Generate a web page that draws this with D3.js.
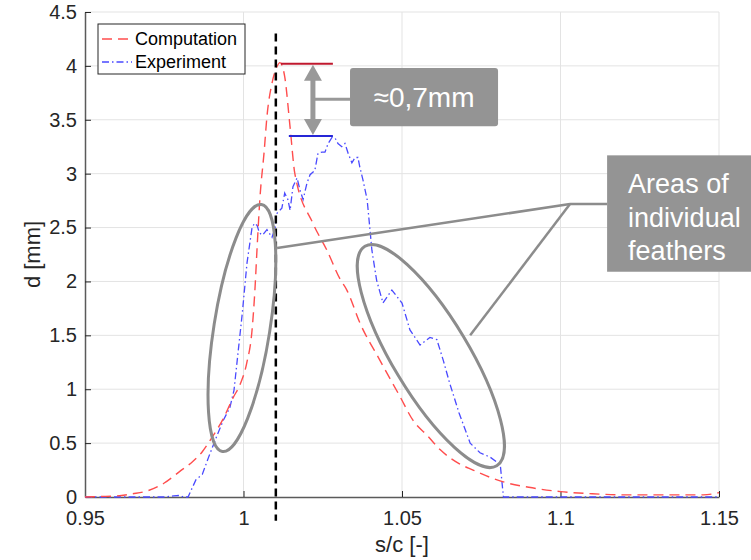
<!DOCTYPE html>
<html>
<head>
<meta charset="utf-8">
<script src="https://cdn.jsdelivr.net/npm/d3@7"></script>
<style>
  body { margin: 0; background: #fff; }
  svg { display: block; font-family: "Liberation Sans", Arial, Helvetica, sans-serif; }
</style>
</head>
<body>
<div id="area"></div>
<script>
// values
var xTicks = [0.95, 1, 1.05, 1.1, 1.15];
var yTicks = [0, 0.5, 1, 1.5, 2, 2.5, 3, 3.5, 4, 4.5];
var xTickLabels = ['0.95', '1', '1.05', '1.1', '1.15'];
var yTickLabels = ['0', '0.5', '1', '1.5', '2', '2.5', '3', '3.5', '4', '4.5'];

var compX = [0.950, 0.955, 0.960, 0.965, 0.970, 0.975, 0.980, 0.984, 0.987, 0.990,
             0.9935, 0.9967, 0.999, 1.001, 1.0027, 1.0036, 1.0043, 1.0052, 1.0065, 1.0074,
             1.009, 1.0105, 1.0115, 1.013, 1.0147, 1.0162, 1.0219, 1.0263, 1.0305, 1.0326,
             1.0368, 1.043, 1.0494, 1.0535, 1.058, 1.062, 1.068, 1.0724, 1.078, 1.082,
             1.09, 1.10, 1.11, 1.12, 1.135, 1.145, 1.15];
var compY = [0, 0.005, 0.01, 0.03, 0.06, 0.13, 0.24, 0.33, 0.42, 0.55,
             0.72, 0.92, 1.05, 1.24, 1.55, 1.92, 2.32, 2.78, 3.2, 3.53,
             3.84, 3.99, 4.03, 3.9, 3.43, 3.0, 2.54, 2.29, 2.02, 1.92,
             1.61, 1.27, 0.93, 0.71, 0.57, 0.44, 0.31, 0.25, 0.18, 0.14,
             0.09, 0.05, 0.03, 0.02, 0.02, 0.02, 0.04];

var expX = [0.950, 0.975, 0.978, 0.980, 0.981, 0.9825, 0.985, 0.987, 0.989, 0.9915,
            0.9936, 0.9957, 0.997, 0.9985, 0.9996, 1.0011, 1.0027, 1.0035, 1.0043, 1.005,
            1.006, 1.0074, 1.009, 1.010, 1.0105, 1.0121, 1.013, 1.014, 1.0147, 1.0156,
            1.0169, 1.0178, 1.0188, 1.020, 1.021, 1.0225, 1.0235, 1.0248, 1.0257, 1.0267,
            1.028, 1.0289, 1.0298, 1.031, 1.032, 1.033, 1.0342, 1.0352, 1.0361, 1.0367,
            1.0377, 1.039, 1.0399, 1.0405, 1.042, 1.044, 1.0468, 1.05, 1.0525, 1.0557,
            1.0588, 1.061, 1.063, 1.065, 1.068, 1.0715, 1.0746, 1.0778, 1.081, 1.082,
            1.15];
var expY = [0, 0, 0.01, 0.015, 0, 0, 0.16, 0.21, 0.37, 0.56,
            0.71, 0.83, 0.99, 1.4, 1.7, 2.17, 2.5, 2.54, 2.52, 2.45,
            2.43, 2.48, 2.41, 2.5, 2.63, 2.68, 2.82, 2.76, 2.66, 2.88,
            2.96, 2.85, 2.76, 2.91, 2.99, 3.03, 3.19, 3.2, 3.2, 3.28,
            3.34, 3.33, 3.28, 3.25, 3.28, 3.19, 3.1, 3.15, 3.15, 3.06,
            2.94, 2.76, 2.48, 2.29, 2.01, 1.8, 1.92, 1.8, 1.55, 1.41,
            1.48, 1.46, 1.27, 1.06, 0.78, 0.50, 0.41, 0.37, 0.30, 0,
            0];

var seriesNames = ['Computation', 'Experiment'];

// annotation anchors in data units
var peakLine = 1.0102;
var compPeak = 4.02, expPeak = 3.35;
var arrowX = 1.0219;
var gapLabel = '\u22480,7mm';
var featherLines = ['Areas of', 'individual', 'feathers'];
var featherHub = [1.103, 2.718];
var featherTargets = [[1.0106, 2.31], [1.0715, 1.50]];

var width = 751, height = 560;
var margin = {top: 12, right: 32, bottom: 63, left: 85};

var svg = d3.select('#area').append('svg')
    .attr('width', width)
    .attr('height', height);

var x = d3.scaleLinear().domain([0.95, 1.15]).range([margin.left, width - margin.right]);
var y = d3.scaleLinear().domain([0, 4.5]).range([height - margin.bottom, margin.top]);

var tickColor = '#262626';

// grid
svg.append('g')
    .selectAll('line')
    .data(xTicks.slice(1))
    .enter().append('line')
    .attr('x1', function(d) { return x(d); })
    .attr('x2', function(d) { return x(d); })
    .attr('y1', y(0)).attr('y2', y(4.5))
    .attr('stroke', '#e3e3e3').attr('stroke-width', 1);

svg.append('g')
    .selectAll('line')
    .data(yTicks.slice(1))
    .enter().append('line')
    .attr('x1', x(0.95)).attr('x2', x(1.15))
    .attr('y1', function(d) { return y(d); })
    .attr('y2', function(d) { return y(d); })
    .attr('stroke', '#e3e3e3').attr('stroke-width', 1);

// axes, ticks pointing inward like matlab
var xAxis = svg.append('g')
    .attr('transform', 'translate(0,' + y(0) + ')')
    .call(d3.axisBottom(x).tickValues(xTicks)
        .tickFormat(function(d, i) { return xTickLabels[i]; })
        .tickSize(-6).tickSizeOuter(0).tickPadding(14));

var yAxis = svg.append('g')
    .attr('transform', 'translate(' + x(0.95) + ',0)')
    .call(d3.axisLeft(y).tickValues(yTicks)
        .tickFormat(function(d, i) { return yTickLabels[i]; })
        .tickSize(-6).tickSizeOuter(0).tickPadding(8));

[xAxis, yAxis].forEach(function(a) {
    a.select('.domain').attr('stroke', '#5a5a5a').attr('stroke-width', 1.5);
    a.selectAll('.tick line').attr('stroke', '#262626');
    a.selectAll('.tick text')
        .attr('fill', tickColor)
        .style('font-size', '20px')
        .style('font-family', '"Liberation Sans", Arial, sans-serif');
});

svg.append('text')
    .attr('x', x(1.05)).attr('y', height - 8)
    .attr('text-anchor', 'middle')
    .attr('fill', tickColor)
    .style('font-size', '22px')
    .text('s/c [-]');

svg.append('text')
    .attr('transform', 'translate(40,' + y(2.25) + ') rotate(-90)')
    .attr('text-anchor', 'middle')
    .attr('fill', tickColor)
    .style('font-size', '22px')
    .text('d [mm]');

// curves
var line = d3.line()
    .x(function(d) { return x(d[0]); })
    .y(function(d) { return y(d[1]); });

var compData = d3.zip(compX, compY);
var expData = d3.zip(expX, expY);

svg.append('path')
    .datum(expData)
    .attr('d', line)
    .attr('fill', 'none')
    .attr('stroke', '#4a4aff')
    .attr('stroke-width', 1.3)
    .attr('stroke-dasharray', '7,3,1.5,3');

svg.append('path')
    .datum(compData)
    .attr('d', line.curve(d3.curveMonotoneX))
    .attr('fill', 'none')
    .attr('stroke', '#ff4d4d')
    .attr('stroke-width', 1.4)
    .attr('stroke-dasharray', '10,6');

// black dashed marker at the computed peak
svg.append('line')
    .attr('x1', x(peakLine)).attr('x2', x(peakLine))
    .attr('y1', y(4.3)).attr('y2', y(-0.22))
    .attr('stroke', '#000').attr('stroke-width', 2.5)
    .attr('stroke-dasharray', '8,5');

// peak levels
svg.append('line')
    .attr('x1', x(1.0118)).attr('x2', x(1.0282))
    .attr('y1', y(compPeak)).attr('y2', y(compPeak))
    .attr('stroke', '#c0182e').attr('stroke-width', 2);

svg.append('line')
    .attr('x1', x(1.0143)).attr('x2', x(1.0282))
    .attr('y1', y(expPeak)).attr('y2', y(expPeak))
    .attr('stroke', '#2626d6').attr('stroke-width', 2);

// double arrow between the two peaks
var gray = '#999999';
var ax = x(arrowX), ayTop = y(compPeak), ayBot = y(expPeak);
svg.append('line')
    .attr('x1', ax).attr('x2', ax)
    .attr('y1', ayTop + 14).attr('y2', ayBot - 14)
    .attr('stroke', gray).attr('stroke-width', 5);
svg.append('path')
    .attr('d', 'M' + ax + ',' + (ayTop + 1) + 'L' + (ax - 9) + ',' + (ayTop + 17) + 'L' + (ax + 9) + ',' + (ayTop + 17) + 'Z')
    .attr('fill', gray);
svg.append('path')
    .attr('d', 'M' + ax + ',' + (ayBot - 1) + 'L' + (ax - 9) + ',' + (ayBot - 17) + 'L' + (ax + 9) + ',' + (ayBot - 17) + 'Z')
    .attr('fill', gray);

var boxGray = '#949494';
svg.append('line')
    .attr('x1', ax).attr('x2', x(1.0336))
    .attr('y1', y(3.69)).attr('y2', y(3.69))
    .attr('stroke', gray).attr('stroke-width', 3);

svg.append('rect')
    .attr('x', x(1.0336)).attr('y', y(3.98))
    .attr('width', x(1.0803) - x(1.0336))
    .attr('height', y(3.44) - y(3.98))
    .attr('rx', 3)
    .attr('fill', boxGray);

svg.append('text')
    .attr('x', (x(1.0336) + x(1.0803)) / 2).attr('y', y(3.44) - 19)
    .attr('text-anchor', 'middle')
    .attr('fill', '#fff')
    .style('font-size', '28px')
    .text(gapLabel);

// feather annotation: ellipses, connector lines, label box
svg.append('ellipse')
    .attr('transform', 'translate(' + x(0.9995) + ',' + y(1.568) + ') rotate(9)')
    .attr('rx', 28).attr('ry', 125)
    .attr('fill', 'none').attr('stroke', '#8c8c8c').attr('stroke-width', 3);

svg.append('ellipse')
    .attr('transform', 'translate(' + x(1.0591) + ',' + y(1.308) + ') rotate(-31)')
    .attr('rx', 38).attr('ry', 128)
    .attr('fill', 'none').attr('stroke', '#8c8c8c').attr('stroke-width', 3);

featherTargets.forEach(function(t) {
    svg.append('line')
        .attr('x1', x(featherHub[0])).attr('y1', y(featherHub[1]))
        .attr('x2', x(t[0])).attr('y2', y(t[1]))
        .attr('stroke', '#8c8c8c').attr('stroke-width', 2.5);
});
svg.append('line')
    .attr('x1', x(featherHub[0])).attr('y1', y(featherHub[1]))
    .attr('x2', x(1.1147)).attr('y2', y(featherHub[1]))
    .attr('stroke', '#8c8c8c').attr('stroke-width', 2.5);

svg.append('rect')
    .attr('x', x(1.1147)).attr('y', y(3.17))
    .attr('width', x(1.1614) - x(1.1147))
    .attr('height', y(2.09) - y(3.17))
    .attr('fill', boxGray);

svg.append('g')
    .selectAll('text')
    .data(featherLines)
    .enter().append('text')
    .attr('x', x(1.1147) + 21)
    .attr('y', function(d, i) { return y(3.17) + 38 + i * 33.5; })
    .attr('fill', '#fff')
    .style('font-size', '27px')
    .text(function(d) { return d; });

// legend
var legend = svg.append('g').attr('transform', 'translate(98,24)');
legend.append('rect')
    .attr('width', 147).attr('height', 50)
    .attr('fill', '#fff').attr('stroke', '#262626').attr('stroke-width', 1);

var legendStyles = [
    {color: '#ff4d4d', dash: '10,6'},
    {color: '#4a4aff', dash: '7,3,1.5,3'}
];
seriesNames.forEach(function(name, i) {
    var ly = 15 + i * 23;
    legend.append('line')
        .attr('x1', 4).attr('x2', 34)
        .attr('y1', ly).attr('y2', ly)
        .attr('stroke', legendStyles[i].color)
        .attr('stroke-width', 1.4)
        .attr('stroke-dasharray', legendStyles[i].dash);
    legend.append('text')
        .attr('x', 37).attr('y', ly + 6)
        .attr('fill', '#000')
        .style('font-size', '18px')
        .text(name);
});
</script>
</body>
</html>
